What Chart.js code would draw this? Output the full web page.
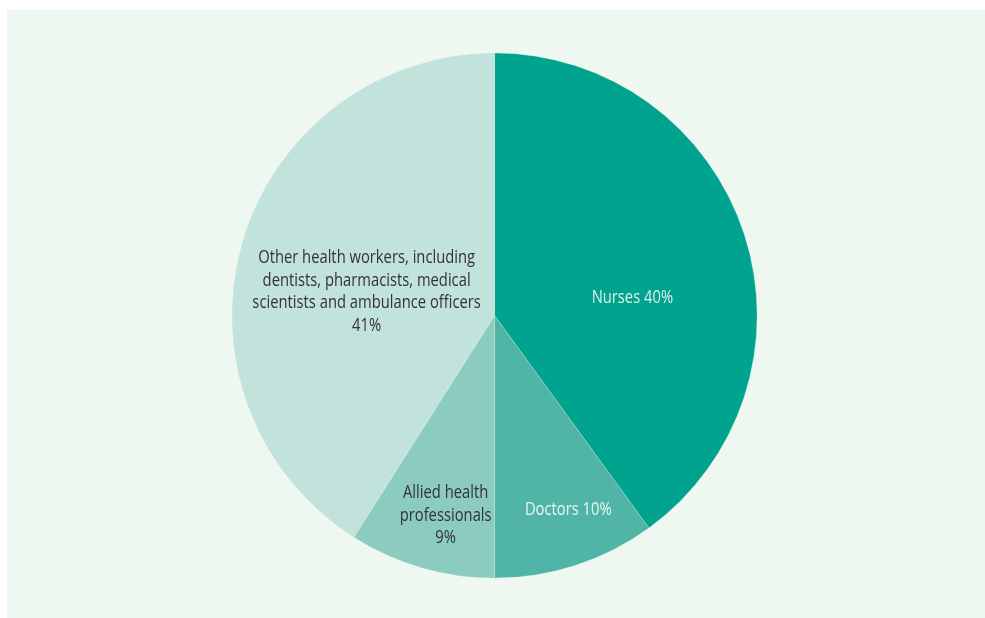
<!DOCTYPE html>
<html>
<head>
<meta charset="utf-8">
<script src="https://cdn.jsdelivr.net/npm/chart.js@4"></script>
<style>
    html, body { margin: 0; padding: 0; background: #ffffff; }
    #panel {
        position: absolute;
        left: 7px; top: 10px;
        width: 978px; height: 608px;
        background: #eef7f0;
    }
    #workforceChart { display: block; }
</style>
</head>
<body>
<div id="panel"><canvas id="workforceChart" width="978" height="608"></canvas></div>
<script>
// Share of the health workforce, by group
const categories = [
    ['Nurses 40%'],
    ['Doctors 10%'],
    ['Allied health', 'professionals', '9%'],
    ['Other health workers, including', 'dentists, pharmacists, medical', 'scientists and ambulance officers', '41%']
];
const shares = [40, 10, 9, 41];
const sliceColours = ['#00a38e', '#50b5a6', '#8ccbc0', '#c2e3dc'];
const labelColours = ['#d8f0ea', '#e9f6f3', '#333333', '#333333'];

// where each label block sits, as a fraction of the radius from the centre
const labelOffsets = [
    [0.525, -0.066],
    [0.281, 0.740],
    [-0.186, 0.762],
    [-0.487, -0.090]
];

// no condensed face is installed, so squeeze the glyphs sideways
const squeeze = 0.82;

const sliceLabels = {
    id: 'sliceLabels',
    afterDatasetsDraw(chart) {
        const ctx = chart.ctx;
        const arcs = chart.getDatasetMeta(0).data;
        const lineHeight = 22.5;
        arcs.forEach((arc, i) => {
            const lines = categories[i];
            const cx = arc.x + labelOffsets[i][0] * arc.outerRadius;
            const cy = arc.y + labelOffsets[i][1] * arc.outerRadius;
            const top = cy - (lines.length - 1) * lineHeight / 2;
            ctx.save();
            ctx.translate(cx, 0);
            ctx.scale(squeeze, 1);
            ctx.font = '18px "Open Sans", sans-serif';
            ctx.textAlign = 'center';
            ctx.textBaseline = 'middle';
            ctx.fillStyle = labelColours[i];
            lines.forEach((line, j) => ctx.fillText(line, 0, top + j * lineHeight));
            ctx.restore();
        });
    }
};

new Chart(document.getElementById('workforceChart'), {
    type: 'pie',
    data: {
        labels: categories.map(c => c.join(' ')),
        datasets: [{
            data: shares,
            backgroundColor: sliceColours,
            borderColor: 'rgba(238, 247, 240, 0.3)',
            borderWidth: 0.8
        }]
    },
    options: {
        responsive: false,
        animation: false,
        layout: { padding: { top: 42.5, bottom: 39.5, left: 0, right: 3 } },
        plugins: {
            legend: { display: false },
            tooltip: { enabled: false }
        }
    },
    plugins: [sliceLabels]
});
</script>
</body>
</html>
